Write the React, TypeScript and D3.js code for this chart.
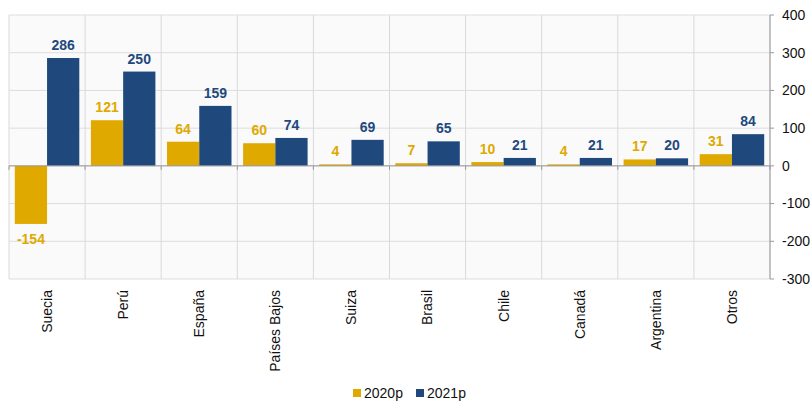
import React from 'react';
import * as d3 from 'd3';

const categories = ['Suecia', 'Perú', 'España', 'Países Bajos', 'Suiza', 'Brasil', 'Chile', 'Canadá', 'Argentina', 'Otros'];
const series2020 = [-154, 121, 64, 60, 4, 7, 10, 4, 17, 31];
const series2021 = [286, 250, 159, 74, 69, 65, 21, 21, 20, 84];
const seriesNames = ['2020p', '2021p'];
const yTicks = [400, 300, 200, 100, 0, -100, -200, -300];

const colors = ['#DFA900', '#1F497D'];
const W = 812, H = 401;
const margin = { top: 15, right: 42, bottom: 122, left: 9 };

const App = () => {
  const iw = W - margin.left - margin.right;
  const ih = H - margin.top - margin.bottom;

  const x = d3.scaleBand().domain(categories).range([0, iw]).paddingInner(0).paddingOuter(0);
  const x1 = d3.scaleBand().domain(seriesNames).range([0, x.bandwidth()]).paddingOuter(0.18).paddingInner(0);
  const y = d3.scaleLinear().domain([-300, 400]).range([ih, 0]);
  const font = 'Liberation Sans, Arial, sans-serif';

  const data = [series2020, series2021];
  const boundaries = d3.range(categories.length + 1).map(i => i * x.step());

  return (
    <div>
      <style>{`body{margin:0}`}</style>
      <svg width={W} height={H} style={{ display: 'block', fontFamily: font }}>
        <g transform={`translate(${margin.left},${margin.top})`}>
          <rect x={0} y={0} width={iw} height={ih} fill="#FAFAFA" />
          {yTicks.map(t => (
            <line key={'h' + t} x1={0} x2={iw} y1={y(t)} y2={y(t)} stroke="#DDDDDD" strokeWidth={1} />
          ))}
          {boundaries.map((b, i) => (
            <line key={'v' + i} x1={b} x2={b} y1={0} y2={ih} stroke="#D9D9D9" strokeWidth={1} />
          ))}
          {data.map((vals, s) =>
            vals.map((v, i) => {
              const bx = (x(categories[i]) as number) + (x1(seriesNames[s]) as number);
              const bw = x1.bandwidth();
              return (
                <g key={`b${s}-${i}`}>
                  <rect x={bx} width={bw} y={y(Math.max(0, v))} height={Math.abs(y(v) - y(0))} fill={colors[s]} />
                  <text
                    x={bx + bw / 2}
                    y={v >= 0 ? y(v) - 8 : y(v) + 20}
                    textAnchor="middle"
                    fontSize={14}
                    fontWeight="bold"
                    fill={colors[s]}
                  >
                    {v}
                  </text>
                </g>
              );
            })
          )}
          {/* zero line with small ticks */}
          <line x1={0} x2={iw} y1={y(0)} y2={y(0)} stroke="#999999" strokeWidth={1} />
          {boundaries.map((b, i) => (
            <line key={'zt' + i} x1={b} x2={b} y1={y(0)} y2={y(0) + 4} stroke="#999999" strokeWidth={1} />
          ))}
          {/* right axis */}
          <line x1={iw} x2={iw} y1={0} y2={ih} stroke="#999999" strokeWidth={1} />
          {yTicks.map(t => (
            <g key={'yt' + t}>
              <line x1={iw} x2={iw + 4} y1={y(t)} y2={y(t)} stroke="#999999" />
              <text x={iw + 12} y={y(t)} dy="0.35em" fontSize={14} fill="#111">{t}</text>
            </g>
          ))}
          {/* category labels */}
          {categories.map(c => {
            const cx = (x(c) as number) + x.bandwidth() / 2;
            return (
              <text key={c} transform={`translate(${cx},${ih + 11}) rotate(-90)`} textAnchor="end" dy="0.35em" fontSize={14} fill="#111">
                {c}
              </text>
            );
          })}
        </g>
        {/* legend */}
        <g transform={`translate(353,389)`}>
          {seriesNames.map((n, i) => (
            <g key={n} transform={`translate(${i * 63},0)`}>
              <rect x={0} y={0} width={8} height={8} fill={colors[i]} />
              <text x={11} y={9} fontSize={14} fill="#111">{n}</text>
            </g>
          ))}
        </g>
      </svg>
    </div>
  );
};

export default App;
